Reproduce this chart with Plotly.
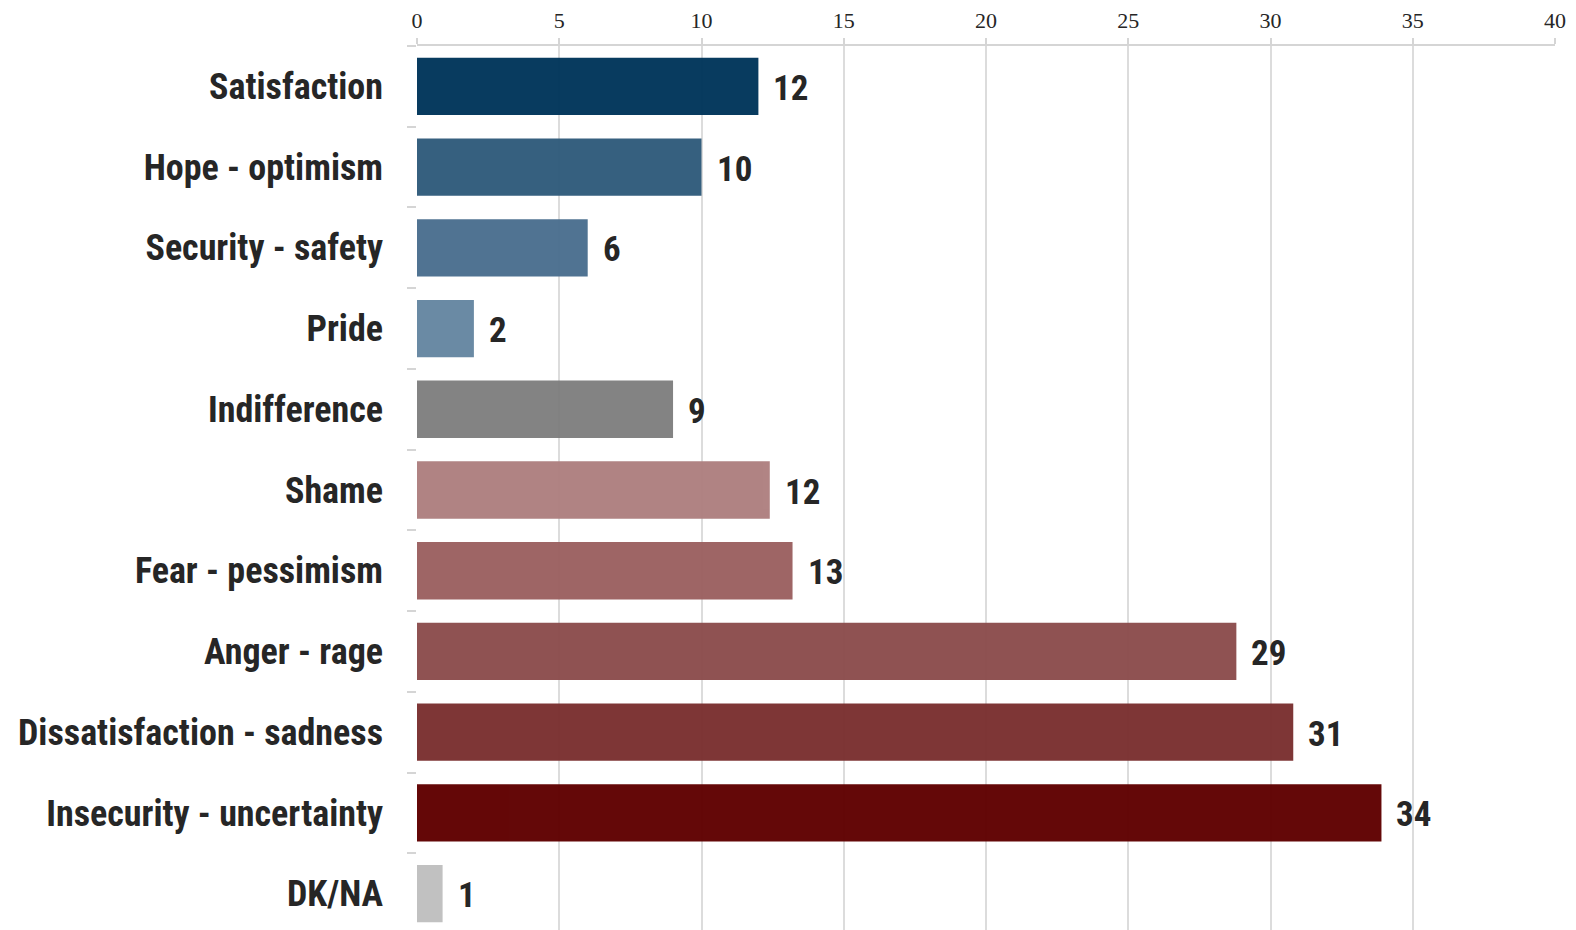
import plotly.graph_objects as go

categories = ["Satisfaction", "Hope - optimism", "Security - safety", "Pride", "Indifference",
              "Shame", "Fear - pessimism", "Anger - rage", "Dissatisfaction - sadness",
              "Insecurity - uncertainty", "DK/NA"]
values = [12.0, 10.0, 6.0, 2.0, 9.0, 12.4, 13.2, 28.8, 30.8, 33.9, 0.9]
colors = ["#01355a", "#305b7b", "#4b6f8f", "#6687a2", "#7f7f7f", "#ae8080",
          "#9b6161", "#8c4d4d", "#7a3030", "#5f0000", "#c0c0c0"]
x_ticks = [0, 5, 10, 15, 20, 25, 30, 35, 40]

LABEL_FONT = "Liberation Sans Narrow, Roboto Condensed, Arial Narrow, Roboto, sans-serif"

fig = go.Figure()
fig.add_trace(go.Bar(
    y=categories, x=values, orientation="h",
    marker=dict(color=colors, line=dict(width=0)),
    opacity=0.97,
    hoverinfo="x+y",
))

for c, v in zip(categories, values):
    fig.add_annotation(x=v, y=c, text=str(int(round(v))), showarrow=False,
                       xanchor="left", yanchor="middle", xshift=13, yshift=-2,
                       font=dict(family=LABEL_FONT, size=35, color="#262626", weight="bold"))

fig.update_layout(
    width=1576, height=930,
    margin=dict(l=409, r=29, t=38, b=4),
    plot_bgcolor="white", paper_bgcolor="white",
    bargap=0.29,
    showlegend=False,
    xaxis=dict(
        side="top", range=[0, 40], tickvals=x_ticks, ticktext=[str(t) for t in x_ticks],
        showgrid=True, gridcolor="#dcdcdc", gridwidth=1.5,
        zeroline=False, automargin=False,
        showline=True, linecolor="#d5d5d5", linewidth=2,
        ticks="outside", ticklen=6, tickcolor="#d5d5d5", tickwidth=1.5,
        ticklabelstandoff=1,
        tickfont=dict(family="Liberation Serif, DejaVu Serif, serif", size=22, color="#262626"),
        fixedrange=True,
    ),
    yaxis=dict(
        categoryorder="array", categoryarray=categories, autorange="reversed",
        showgrid=False, zeroline=False, showline=False, automargin=False,
        ticks="outside", tickson="boundaries", ticklen=9, tickcolor="#d5d5d5", tickwidth=2,
        ticklabelstandoff=33,
        tickfont=dict(family=LABEL_FONT, size=36, color="#262626", weight="bold"),
    ),
)

fig.write_html("out.html")
